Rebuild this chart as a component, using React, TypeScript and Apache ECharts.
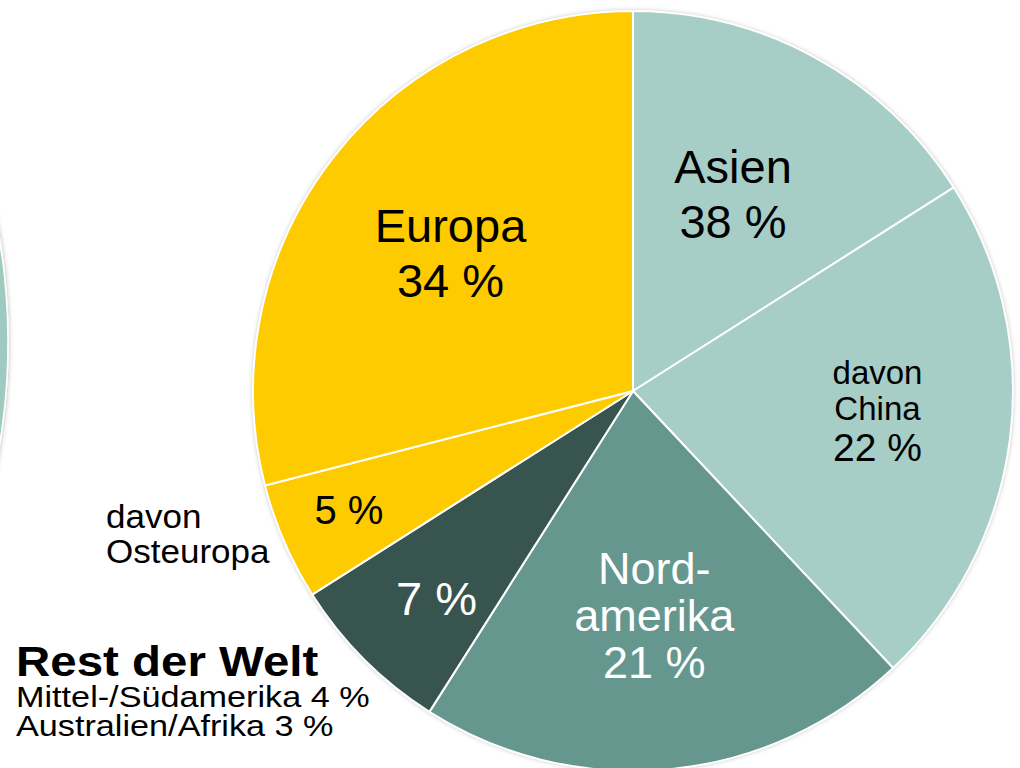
import React, { useEffect, useRef } from "react";
import * as echarts from "echarts";

const segments = ["Asien", "davon China", "Nordamerika", "Rest der Welt", "davon Osteuropa", "Europa"];
const shares = [16, 22, 21, 7, 5, 29];
const sliceColors = ["#a6cdc6", "#a6cdc6", "#66978f", "#37544f", "#fecb00", "#fecb00"];
const labelLines = [
  ["Asien", "38 %"],
  ["davon", "China", "22 %"],
  ["Nord-", "amerika", "21 %"],
  ["7 %"],
  ["5 %"],
  ["Europa", "34 %"],
];
const labelColors = ["#000", "#000", "#fff", "#fff", "#000", "#000"];
const labelSizes = [47, 39, 45, 47, 40, 47];
const labelLineHeights = [55, 42, 47, 50, 44, 55];
const labelOffsets: [number, number][] = [
  [7, -28],
  [53, -4],
  [3, 32],
  [-60, 71],
  [-107, 42],
  [-30, -20],
];

const restTitle = "Rest der Welt";
const restLines = ["Mittel-/Südamerika 4 %", "Australien/Afrika 3 %"];
const osteuropaNote = ["davon", "Osteuropa"];

const FONT = "'Liberation Sans', Arial, sans-serif";

export default function App() {
  const ref = useRef<HTMLDivElement>(null);
  useEffect(() => {
    if (!ref.current) return;
    const chart = echarts.init(ref.current, undefined, { renderer: "svg" });
    const data = segments.map((name, i) => {
      const lines = labelLines[i];
      let formatter: string;
      if (i === 1) {
        formatter = lines.map((l, j) => (j < 2 ? `{s|${l}}` : `{b|${l}}`)).join("\n");
      } else {
        formatter = lines.map((l) => `{b|${l}}`).join("\n");
      }
      return {
        name,
        value: shares[i],
        itemStyle: { color: sliceColors[i] },
        label: {
          formatter,
          offset: labelOffsets[i],
          rich: {
            s: { fontSize: 33, lineHeight: 36, color: labelColors[i], fontFamily: FONT },
            b: {
              fontSize: labelSizes[i],
              lineHeight: labelLineHeights[i],
              color: labelColors[i],
              fontFamily: FONT,
            },
          },
        },
      };
    });
    chart.setOption({
      animation: false,
      backgroundColor: "#ffffff",
      graphic: [
        {
          type: "circle",
          shape: { cx: 8 - 630, cy: 342, r: 630 },
          style: {
            fill: "#9fcac0",
            stroke: "#ffffff",
            lineWidth: 1.5,
            shadowBlur: 5,
            shadowColor: "rgba(0,0,0,0.3)",
          },
          z: 0,
        },
        {
          type: "circle",
          shape: { cx: 633, cy: 391, r: 380 },
          style: {
            fill: "#ffffff",
            shadowBlur: 5,
            shadowColor: "rgba(0,0,0,0.3)",
          },
          z: 0,
        },
        {
          type: "text",
          x: 16,
          y: 661,
          scaleX: 1.13,
          style: {
            text: restTitle,
            fontSize: 42,
            fontWeight: "bold",
            fontFamily: FONT,
            fill: "#000",
            align: "left",
            verticalAlign: "middle",
          },
        },
        ...restLines.map((t, i) => ({
          type: "text",
          x: 16,
          y: 697 + i * 29,
          scaleX: 1.16,
          style: {
            text: t,
            fontSize: 29.5,
            fontFamily: FONT,
            fill: "#000",
            align: "left",
            verticalAlign: "middle",
          },
        })),
        ...osteuropaNote.map((t, i) => ({
          type: "text",
          x: 106,
          y: 516 + i * 35,
          scaleX: 1.03,
          style: {
            text: t,
            fontSize: 34,
            fontFamily: FONT,
            fill: "#000",
            align: "left",
            verticalAlign: "middle",
          },
        })),
      ],
      series: [
        {
          type: "pie",
          center: [633, 391],
          radius: 380,
          startAngle: 90,
          clockwise: true,
          avoidLabelOverlap: false,
          minShowLabelAngle: 0,
          selectedMode: false,
          silent: true,
          label: { show: true, position: "inside" },
          labelLine: { show: false },
          emphasis: { disabled: true },
          itemStyle: { borderColor: "#ffffff", borderWidth: 2 },
          data,
        },
      ],
    });
    return () => chart.dispose();
  }, []);
  return (
    <div
      ref={ref}
      style={{ position: "fixed", left: 0, top: 0, width: 1020, height: 768 }}
    />
  );
}
